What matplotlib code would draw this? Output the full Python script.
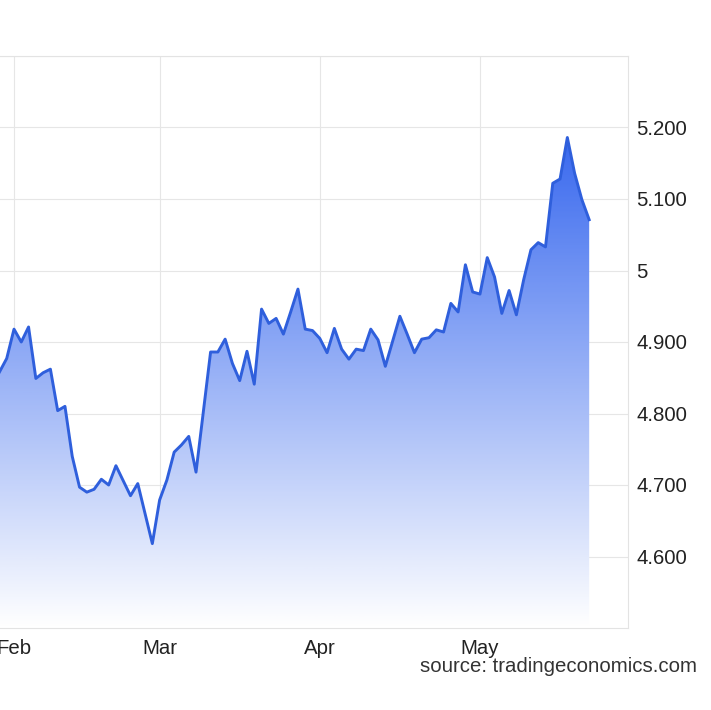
# Yield-like series, tradingeconomics style area chart
from matplotlib import pyplot as plt
from matplotlib.colors import LinearSegmentedColormap
import numpy as np

plt.rcParams['font.family'] = ['Liberation Sans', 'DejaVu Sans']

# Data (one value per trading day)
values = [4.858, 4.877, 4.918, 4.900, 4.921, 4.849, 4.857, 4.862, 4.804, 4.810,
          4.740, 4.697, 4.690, 4.694, 4.708, 4.700, 4.727, 4.706, 4.685, 4.702,
          4.660, 4.618, 4.679, 4.707, 4.746, 4.756, 4.768, 4.718, 4.802, 4.886,
          4.886, 4.904, 4.870, 4.846, 4.887, 4.841, 4.946, 4.926, 4.933, 4.911,
          4.942, 4.974, 4.918, 4.916, 4.905, 4.885, 4.919, 4.890, 4.876, 4.890,
          4.888, 4.918, 4.903, 4.866, 4.901, 4.936, 4.911, 4.885, 4.904, 4.906,
          4.917, 4.914, 4.954, 4.942, 5.008, 4.970, 4.967, 5.018, 4.991, 4.940,
          4.972, 4.938, 4.987, 5.029, 5.039, 5.033, 5.122, 5.128, 5.186, 5.136,
          5.099, 5.071]
month_pos = [2, 22, 44, 66]
month_labels = ["Feb", "Mar", "Apr", "May"]
y_ticks = [4.6, 4.7, 4.8, 4.9, 5.0, 5.1, 5.2]
y_labels = ["4.600", "4.700", "4.800", "4.900", "5", "5.100", "5.200"]

x = np.arange(len(values))
y = np.array(values)
ymin, ymax = 4.5, 5.3
xmin, xmax = 0.077, 86.29

fig = plt.figure(figsize=(7.11, 7.10), dpi=100)
ax = fig.add_axes([0, 82/710, 627.7/711, 572/710])

# gradient fill under the line
poly = ax.fill_between(x, y, ymin, color='none', lw=0)
cmap = LinearSegmentedColormap.from_list('te', ['#ffffff', '#3566ee'])
yy = np.linspace(ymax, ymin, 400)
grad = np.clip((yy - ymin) / 0.7, 0, 1)[:, None]
im = ax.imshow(grad, extent=[x[0], x[-1], ymin, ymax], aspect='auto',
               cmap=cmap, vmin=0, vmax=1, zorder=1)
im.set_clip_path(poly.get_paths()[0], transform=ax.transData)

ax.plot(x, y, color='#2f5fdc', lw=2.1, zorder=3)

ax.set_xlim(xmin, xmax)
ax.set_ylim(ymin, ymax)

# grid
ax.set_yticks(y_ticks + [5.3])
ax.set_yticklabels(y_labels + [""])
ax.set_xticks(month_pos)
ax.set_xticklabels(month_labels)
ax.grid(True, color='#e6e6e6', lw=0.8)
ax.set_axisbelow(True)
ax.yaxis.tick_right()
ax.tick_params(axis='y', length=0, pad=6, labelsize=14.7, labelcolor='#222222')
ax.tick_params(axis='x', length=0, pad=8, labelsize=14.7, labelcolor='#222222')
ax.spines['left'].set_visible(False)
for s in ['top', 'right', 'bottom']:
    ax.spines[s].set_color('#e3e3e3')
    ax.spines[s].set_linewidth(0.8)

fig.text(697/711, 1 - 667/710, "source: tradingeconomics.com", ha='right', va='center',
         fontsize=14.7, color='#333333')

plt.savefig("out.png", dpi=100)
